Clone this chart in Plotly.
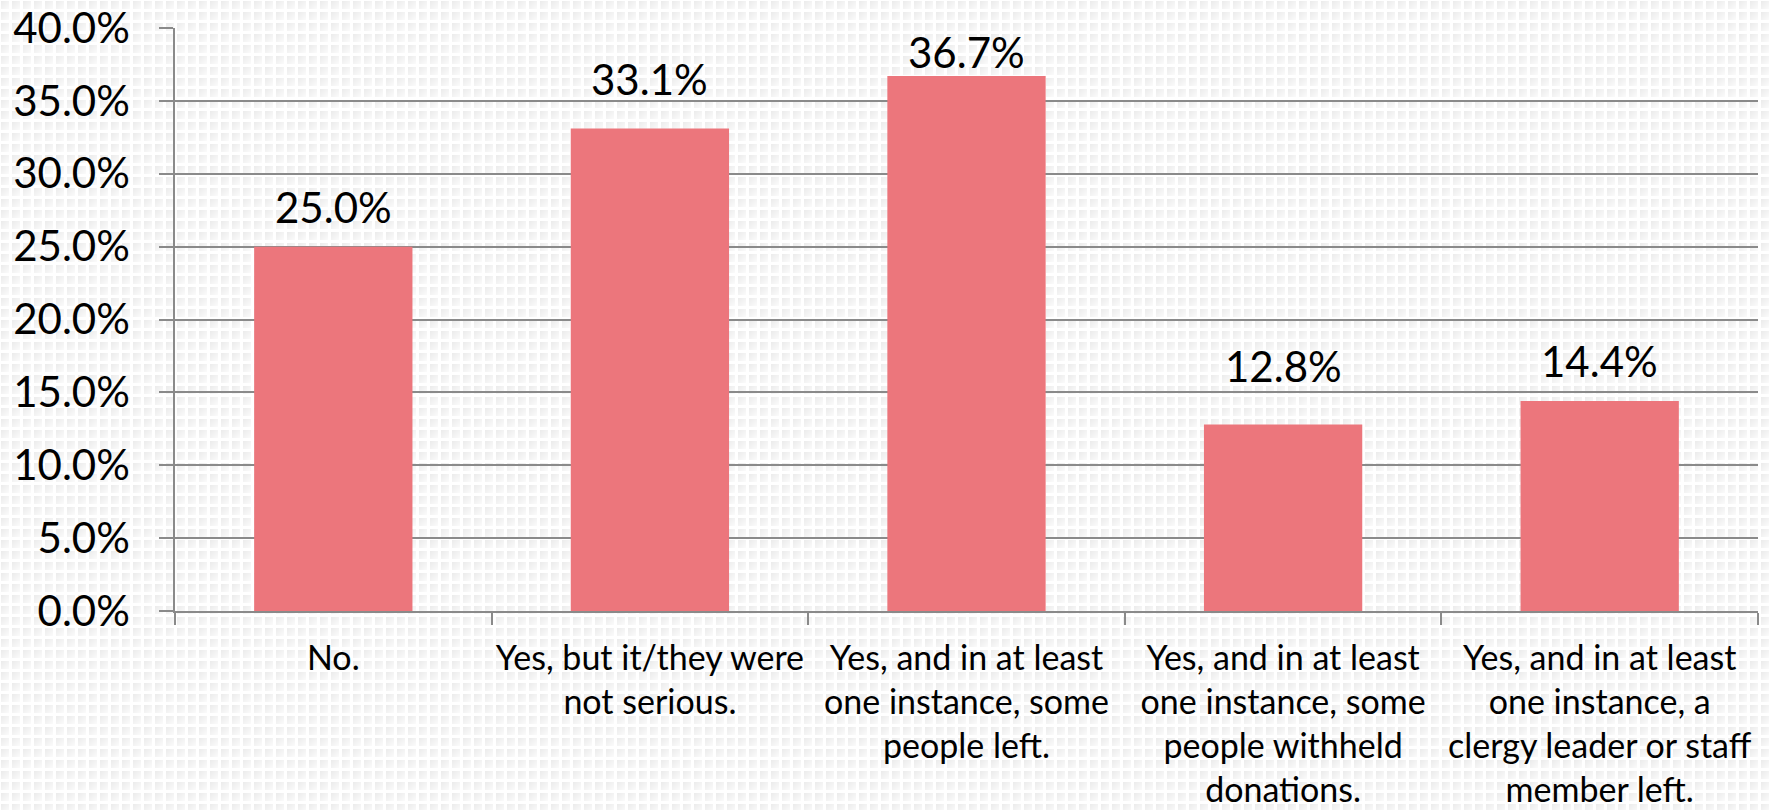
import base64
import plotly.graph_objects as go

# ---- data ----
categories = ["No.", "Yes, not serious", "Yes, some left", "Yes, withheld donations", "Yes, clergy/staff left"]
tick_labels = [
    "No.",
    "Yes, but it/they were<br>not serious.",
    "Yes, and in at least<br>one instance, some<br>people left.",
    "Yes, and in at least<br>one instance, some<br>people withheld<br>donations.",
    "Yes, and in at least<br>one instance, a<br>clergy leader or staff<br>member left.",
]
values = [25.0, 33.1, 36.7, 12.8, 14.4]  # percent
y_ticks = [0, 5, 10, 15, 20, 25, 30, 35, 40]

# ---- style ----
W, H = 1771, 810
ML, MR, MT, MB = 175, 13, 28, 199
label_lift = [40, 50, 24, 58, 40]  # px from bar top to label centre
BAR_COLOR = "#EC767C"
GRID = "#8A8A8A"
FONT = "Lato"

# dotted background pattern (svg)
svg = f'''<svg xmlns="http://www.w3.org/2000/svg" width="{W}" height="{H}">
<defs>
<linearGradient id="g" x1="0" y1="0" x2="1" y2="1">
<stop offset="0" stop-color="#ebebeb"/><stop offset="1" stop-color="#fbfbfb"/></linearGradient>
<pattern id="p" width="11" height="11" patternUnits="userSpaceOnUse">
<rect width="11" height="11" fill="#ffffff"/><rect x="1" y="1" width="8" height="8" fill="url(#g)"/></pattern>
</defs><rect width="{W}" height="{H}" fill="url(#p)"/></svg>'''
bg_uri = "data:image/svg+xml;base64," + base64.b64encode(svg.encode()).decode()

pw = W - ML - MR
ph = H - MT - MB

fig = go.Figure()
fig.add_trace(go.Bar(
    x=categories, y=values, marker=dict(color=BAR_COLOR, line=dict(width=0)),
    hoverinfo="skip",
))

for c, v, lift in zip(categories, values, label_lift):
    fig.add_annotation(
        x=c, y=v, text=f"{v:.1f}%", showarrow=False, yanchor="middle",
        yshift=lift, font=dict(family=FONT, size=42, color="#000000"),
    )

fig.update_layout(
    width=W, height=H,
    margin=dict(l=ML, r=MR, t=MT, b=MB, autoexpand=False),
    paper_bgcolor="#ffffff", plot_bgcolor="rgba(0,0,0,0)",
    bargap=0.5, showlegend=False,
    font=dict(family=FONT, color="#000000"),
    images=[dict(
        source=bg_uri, xref="paper", yref="paper",
        x=-ML / pw, y=1 + MT / ph, sizex=W / pw, sizey=H / ph,
        xanchor="left", yanchor="top", sizing="stretch", layer="below",
    )],
)
fig.update_xaxes(
    tickvals=categories, ticktext=tick_labels, tickson="boundaries",
    ticks="outside", ticklen=12, tickcolor=GRID, tickwidth=1.5,
    showline=True, linecolor=GRID, linewidth=1.5, tickangle=0,
    showgrid=False, tickfont=dict(family=FONT, size=34),
    ticklabelstandoff=16,
)
fig.update_yaxes(
    range=[0, 40], tickvals=y_ticks, ticktext=[f"{t:.1f}%" for t in y_ticks],
    ticks="outside", ticklen=14, tickcolor=GRID, tickwidth=1.5,
    showline=True, linecolor=GRID, linewidth=1.5,
    showgrid=True, gridcolor=GRID, gridwidth=1.5, zeroline=False,
    tickfont=dict(family=FONT, size=42),
    ticklabelstandoff=21,
)

fig.write_html("out.html")
